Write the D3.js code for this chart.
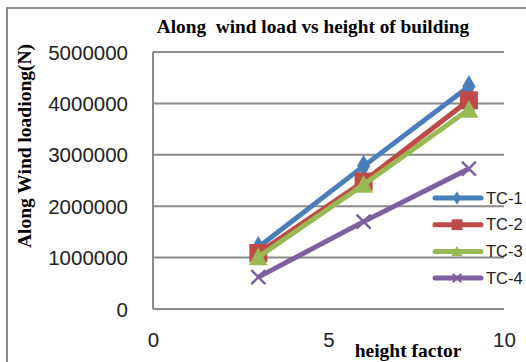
<!DOCTYPE html>
<html>
<head>
<meta charset="utf-8">
<script src="https://cdn.jsdelivr.net/npm/d3@7"></script>
<style>
  html, body { margin: 0; padding: 0; background: #fff; }
  svg { display: block; }
</style>
</head>
<body>
<script>
// Height factor at which the loads were evaluated
const heightFactor = [3, 6, 9];
// Along-wind load (N) for each building case
const tc1 = [1200000, 2780000, 4330000];
const tc2 = [1090000, 2480000, 4060000];
const tc3 = [1010000, 2420000, 3880000];
const tc4 = [620000, 1700000, 2730000];
const seriesNames = ["TC-1", "TC-2", "TC-3", "TC-4"];
const yTicks = [0, 1000000, 2000000, 3000000, 4000000, 5000000];
const xTicks = [0, 5, 10];

const series = [
  { name: seriesNames[0], values: tc1, color: "#4A7EBB", marker: "diamond" },
  { name: seriesNames[1], values: tc2, color: "#BE4B48", marker: "square" },
  { name: seriesNames[2], values: tc3, color: "#98B954", marker: "triangle" },
  { name: seriesNames[3], values: tc4, color: "#7D60A0", marker: "cross" }
];

const W = 526, H = 362;
const plot = { left: 153, right: 504, top: 52, bottom: 309 };

const svg = d3.select("body").append("svg").attr("width", W).attr("height", H);

// Chart frame
svg.append("rect")
  .attr("x", 7).attr("y", 8).attr("width", W + 20).attr("height", H + 20)
  .attr("fill", "#fff").attr("stroke", "#8c8c8c").attr("stroke-width", 2);

const x = d3.scaleLinear().domain([0, 10]).range([plot.left, plot.right]);
const y = d3.scaleLinear().domain([0, 5000000]).range([plot.bottom, plot.top]);

// Horizontal gridlines
svg.append("g").selectAll("line").data(yTicks).join("line")
  .attr("x1", plot.left).attr("x2", plot.right)
  .attr("y1", d => y(d)).attr("y2", d => y(d))
  .attr("stroke", "#8a8a8a").attr("stroke-width", 2);

// Vertical axis line
svg.append("line")
  .attr("x1", plot.left).attr("x2", plot.left)
  .attr("y1", plot.top).attr("y2", plot.bottom)
  .attr("stroke", "#8a8a8a").attr("stroke-width", 2);

// Y axis labels
const yAxis = d3.axisLeft(y).tickValues(yTicks).tickSize(0).tickPadding(0)
  .tickFormat(d3.format("d"));
const gy = svg.append("g").attr("transform", `translate(128,0)`).call(yAxis);
gy.select(".domain").remove();
gy.selectAll("text")
  .attr("font-family", "'Liberation Sans', Arial, sans-serif")
  .attr("font-size", 20.5).attr("fill", "#222").attr("dy", "0.35em").attr("x", 0);

// X axis labels
const xAxis = d3.axisBottom(x).tickValues(xTicks).tickSize(0).tickPadding(0)
  .tickFormat(d3.format("d"));
const gx = svg.append("g").attr("transform", `translate(0,333)`).call(xAxis);
gx.select(".domain").remove();
gx.selectAll("text")
  .attr("font-family", "'Liberation Sans', Arial, sans-serif")
  .attr("font-size", 20.5).attr("fill", "#222").attr("dy", "0.35em").attr("y", 7);

// Titles
const serif = "'Liberation Serif', 'Times New Roman', serif";
svg.append("text")
  .attr("x", 313).attr("y", 33).attr("text-anchor", "middle")
  .attr("font-family", serif).attr("font-weight", "bold").attr("font-size", 19.3)
  .style("white-space", "pre")
  .text("Along  wind load vs height of building");

svg.append("text")
  .attr("transform", "translate(31,146) rotate(-90)")
  .attr("text-anchor", "middle")
  .attr("font-family", serif).attr("font-weight", "bold").attr("font-size", 19.5)
  .text("Along Wind loadiong(N)");

svg.append("text")
  .attr("x", 408).attr("y", 357).attr("text-anchor", "middle")
  .attr("font-family", serif).attr("font-weight", "bold").attr("font-size", 19.5)
  .text("height factor");

// Marker shapes
function drawMarker(g, type, color, scale) {
  const s = scale || 1;
  if (type === "diamond") {
    g.append("path").attr("d", d3.symbol(d3.symbolDiamond, 150 * s * s)())
      .attr("fill", color);
  } else if (type === "square") {
    const h = 9 * s;
    g.append("rect").attr("x", -h).attr("y", -h).attr("width", 2 * h).attr("height", 2 * h)
      .attr("fill", color);
  } else if (type === "triangle") {
    const h = 9.5 * s;
    g.append("path").attr("d", `M0,${-h}L${h},${h * 0.85}L${-h},${h * 0.85}Z`)
      .attr("fill", color);
  } else {
    const h = 7 * s;
    g.append("path").attr("d", `M${-h},${-h}L${h},${h}M${-h},${h}L${h},${-h}`)
      .attr("stroke", color).attr("stroke-width", 2.5 * Math.max(s, 0.8)).attr("fill", "none");
  }
}

const line = d3.line().x((d, i) => x(heightFactor[i])).y(d => y(d));

series.forEach(s => {
  const g = svg.append("g");
  g.append("path").datum(s.values).attr("d", line)
    .attr("fill", "none").attr("stroke", s.color).attr("stroke-width", 5)
    .attr("stroke-linejoin", "round");
  s.values.forEach((v, i) => {
    const m = g.append("g").attr("transform", `translate(${x(heightFactor[i])},${y(v)})`);
    drawMarker(m, s.marker, s.color, 1);
  });
});

// Legend
const legend = svg.append("g");
series.forEach((s, i) => {
  const ly = 198 + i * 26.7;
  const lg = legend.append("g").attr("transform", `translate(0,${ly})`);
  lg.append("line").attr("x1", 435).attr("x2", 481).attr("y1", 0).attr("y2", 0)
    .attr("stroke", s.color).attr("stroke-width", 5).attr("stroke-linecap", "round");
  const m = lg.append("g").attr("transform", "translate(457,0)");
  drawMarker(m, s.marker, s.color, 0.6);
  lg.append("text").attr("x", 486).attr("y", 0).attr("dy", "0.35em")
    .attr("font-family", "'Liberation Sans', Arial, sans-serif")
    .attr("font-size", 16.5).attr("fill", "#222").text(s.name);
});
</script>
</body>
</html>
